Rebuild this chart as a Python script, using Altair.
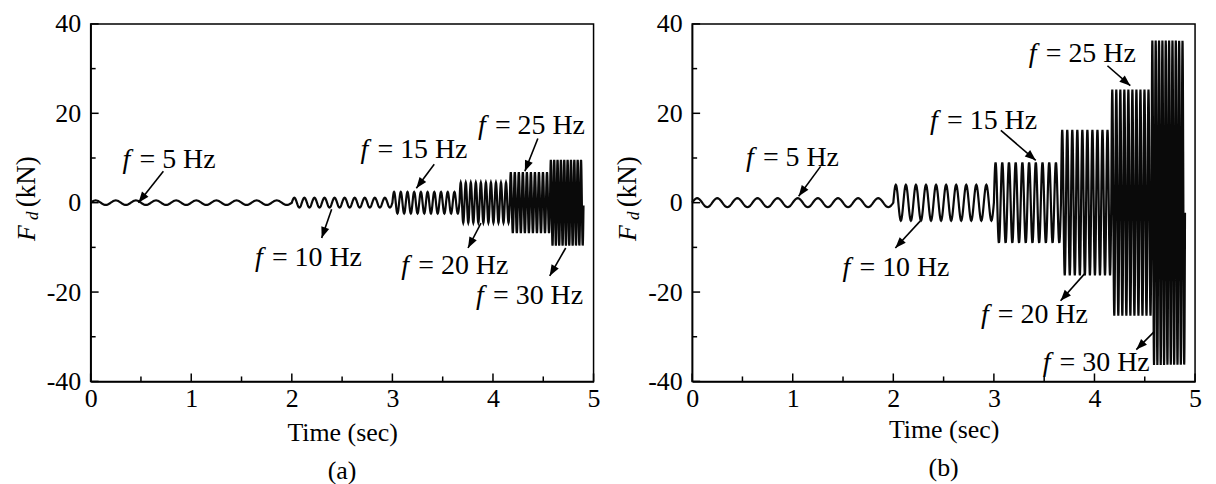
import numpy as np
import pandas as pd
import altair as alt

# ---------------- data ----------------
seg_edges = [0.0, 2.0, 3.0, 3.667, 4.167, 4.567, 4.9]   # s, 10 cycles per segment
freqs = [5, 10, 15, 20, 25, 30]                          # Hz
amp_a = [0.5, 1.1, 2.4, 4.5, 6.8, 9.6]                   # kN, panel (a)
amp_b = [1.0, 4.0, 9.0, 16.3, 25.3, 36.3]                # kN, panel (b)

lab_text = ["= 5 Hz", "= 10 Hz", "= 15 Hz", "= 20 Hz", "= 25 Hz", "= 30 Hz"]
lab_t_a = [0.317, 1.634, 2.683, 3.089, 3.851, 3.832]
lab_v_a = [7.69, -14.15, 9.92, -15.93, 15.26, -22.62]
lab_t_b = [0.535, 1.495, 2.366, 2.871, 3.347, 3.485]
lab_v_b = [8.13, -16.38, 16.38, -26.85, 31.53, -37.77]

arr_t1_a = [0.723, 2.396, 3.416, 3.881, 4.446, 4.723]
arr_v1_a = [7.02, -1.45, 8.58, -4.57, 14.37, -10.14]
arr_t2_a = [0.475, 2.297, 3.238, 3.752, 4.317, 4.564]
arr_v2_a = [0.0, -7.91, 3.23, -10.14, 7.02, -16.38]

arr_t1_b = [1.277, 2.267, 3.069, 3.901, 4.129, 4.594]
arr_v1_b = [8.13, -4.12, 16.16, -15.93, 30.64, -28.86]
arr_t2_b = [1.059, 2.020, 3.416, 3.663, 4.356, 4.416]
arr_v2_b = [1.45, -10.14, 9.47, -21.95, 26.18, -32.87]

x_major = [0, 1, 2, 3, 4, 5]
x_minor = [0.5, 1.5, 2.5, 3.5, 4.5]
y_major = [-40, -20, 0, 20, 40]
y_minor = [-30, -10, 10, 30]

# ---------------- layout / style ----------------
W, H = 505, 359
FONT = "Liberation Serif"
FS = 26
LFS = 28
PX_T = W / 5.0
PX_V = H / 80.0
ARROW = "M0,0L-0.38,1L0.38,1Z"


def wave_df(amps):
    ts, vs = [], []
    for i, f in enumerate(freqs):
        t0, t1 = seg_edges[i], seg_edges[i + 1]
        n = 10 * 24 + 1
        t = np.linspace(t0, t1, n)
        v = amps[i] * np.sin(2 * np.pi * f * (t - t0))
        if i < len(freqs) - 1:
            t, v = t[:-1], v[:-1]
        ts.append(t)
        vs.append(v)
    return pd.DataFrame({"t": np.concatenate(ts), "v": np.concatenate(vs)})


xs = alt.Scale(domain=[0, 5], nice=False, zero=False)
ys = alt.Scale(domain=[-40, 40], nice=False)


def make_panel(amps, lt, lv, t1, v1, t2, v2, letter, title_pad):
    xaxis = alt.Axis(values=x_major, ticks=False, grid=False, labelPadding=4,
                     title="Time (sec)", titlePadding=title_pad, labelExpr="'' + datum.value")
    yaxis = alt.Axis(values=y_major, ticks=False, grid=False, labelPadding=10,
                     title=None, labelExpr="'' + datum.value")
    X = alt.X("t:Q", scale=xs, axis=xaxis)
    Y = alt.Y("v:Q", scale=ys, axis=yaxis)

    line = alt.Chart(wave_df(amps)).mark_line(color="#0a0a0a", strokeWidth=2.2).encode(x=X, y=Y)

    ytk = pd.DataFrame({"v": y_major})
    ytm = pd.DataFrame({"v": y_minor})
    xtk = pd.DataFrame({"t": x_major})
    xtm = pd.DataFrame({"t": x_minor})
    rule_kw = dict(color="black", strokeWidth=1.5)
    t_ymaj = alt.Chart(ytk).mark_rule(**rule_kw).encode(y=Y, x=alt.value(0), x2=alt.value(8))
    t_ymin = alt.Chart(ytm).mark_rule(**rule_kw).encode(y=Y, x=alt.value(0), x2=alt.value(5))
    t_xmaj = alt.Chart(xtk).mark_rule(**rule_kw).encode(x=X, y=alt.value(H), y2=alt.value(H - 8))
    t_xmin = alt.Chart(xtm).mark_rule(**rule_kw).encode(x=X, y=alt.value(H), y2=alt.value(H - 5))

    ang = [(np.degrees(np.arctan2((b - a) * PX_T, (d - c) * PX_V)) + 360) % 360
           for a, b, c, d in zip(t1, t2, v1, v2)]
    arr = pd.DataFrame({"t": t1, "v": v1, "t2": t2, "v2": v2, "ang": ang})
    shafts = alt.Chart(arr).mark_rule(color="black", strokeWidth=1.6).encode(
        x=X, y=Y, x2="t2:Q", y2="v2:Q")
    heads = alt.Chart(arr).mark_point(shape=ARROW, size=480, filled=True, color="black",
                                      opacity=1).encode(
        x=alt.X("t2:Q", scale=xs, axis=xaxis), y=alt.Y("v2:Q", scale=ys, axis=yaxis),
        angle=alt.Angle("ang:Q", scale=None))

    labs = pd.DataFrame({"t": lt, "v": lv, "txt": lab_text})
    f_txt = alt.Chart(labs).mark_text(align="left", baseline="alphabetic", font=FONT,
                                      fontSize=LFS, fontStyle="italic", color="black").encode(
        x=X, y=Y, text=alt.value("f"))
    rest = alt.Chart(labs).mark_text(align="left", baseline="alphabetic", font=FONT,
                                     fontSize=LFS, dx=17, color="black").encode(
        x=X, y=Y, text="txt:N")

    one = pd.DataFrame({"k": [0]})
    yt_kw = dict(align="left", baseline="alphabetic", font=FONT, angle=270, color="black")
    ttl_F = alt.Chart(one).mark_text(fontSize=FS, fontStyle="italic", **yt_kw).encode(
        x=alt.value(-56), y=alt.value(218), text=alt.value("F"))
    ttl_d = alt.Chart(one).mark_text(fontSize=17, fontStyle="italic", **yt_kw).encode(
        x=alt.value(-53), y=alt.value(197), text=alt.value("d"))
    ttl_u = alt.Chart(one).mark_text(fontSize=27, **yt_kw).encode(
        x=alt.value(-56), y=alt.value(184), text=alt.value("(kN)"))

    return alt.layer(line, t_ymaj, t_ymin, t_xmaj, t_xmin, shafts, heads, f_txt, rest,
                     ttl_F, ttl_d, ttl_u).properties(
        width=W, height=H,
        title=alt.TitleParams(letter, orient="bottom", anchor="middle", offset=13))


pa = make_panel(amp_a, lab_t_a, lab_v_a, arr_t1_a, arr_v1_a, arr_t2_a, arr_v2_a, "(a)", 8)
pb = make_panel(amp_b, lab_t_b, lab_v_b, arr_t1_b, arr_v1_b, arr_t2_b, arr_v2_b, "(b)", 5)

chart = alt.hconcat(pa, pb, spacing=12).properties(
    padding={"left": 4, "top": 1, "right": 5, "bottom": 0},
    background="white",
).configure_view(stroke="black", strokeWidth=1.5).configure_axis(
    labelFont=FONT, labelFontSize=FS, labelColor="black",
    titleFont=FONT, titleFontSize=FS, titleFontWeight="normal", titleColor="black",
    domainColor="black", domainWidth=1.5, labelFlush=False, labelOverlap=False,
).configure_title(font=FONT, fontSize=FS, fontWeight="normal", color="black")

chart.save("out.html", embed_options={"renderer": "svg", "actions": False})
